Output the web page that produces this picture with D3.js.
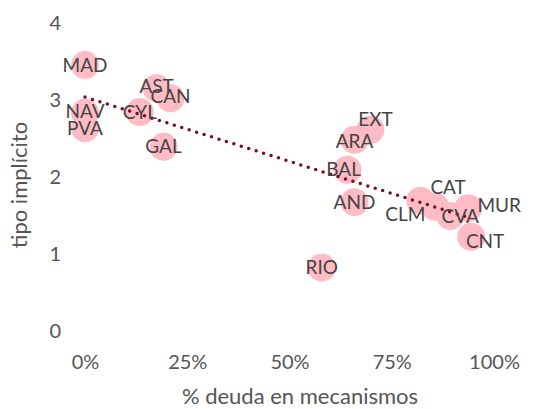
<!DOCTYPE html>
<html>
<head>
<meta charset="utf-8">
<script src="https://cdn.jsdelivr.net/npm/d3@7"></script>
<style>
  body { margin: 0; background: #fff; }
  text { font-family: Lato, "Open Sans", sans-serif; }
</style>
</head>
<body>
<main></main>
<script>
const regions = ['MAD', 'NAV', 'PVA', 'CYL', 'AST', 'CAN', 'GAL', 'EXT', 'ARA', 'BAL', 'AND', 'RIO', 'CLM', 'CAT', 'CVA', 'MUR', 'CNT'];
const deudaMecanismos = [0, 0, 0, 0.134, 0.175, 0.209, 0.192, 0.698, 0.659, 0.642, 0.659, 0.579, 0.82, 0.856, 0.893, 0.937, 0.944];
const tipoImplicito = [3.44, 2.82, 2.62, 2.83, 3.14, 3.01, 2.38, 2.60, 2.47, 2.08, 1.66, 0.81, 1.68, 1.60, 1.48, 1.58, 1.21];
const xTicks = [0, 0.25, 0.5, 0.75, 1];
const yTicks = [0, 1, 2, 3, 4];

// label nudges (px), roughly where the repel put them
const nudge = {
    EXT: [5, -10], ARA: [0, 2], BAL: [-4, 0], CAT: [13, -19], CLM: [-15, 14],
    CVA: [10, 0], MUR: [31, -3], CNT: [14, 5], AST: [0, -2], CAN: [0, -2], NAV: [0, -2]
};

const w = 534, h = 409;
const svg = d3.select('main').append('svg').attr('width', w).attr('height', h);

const x = d3.scaleLinear().domain([0, 1]).range([85, 494]);
const y = d3.scaleLinear().domain([0, 4]).range([330, 22]);

const data = regions.map((r, i) => ({ name: r, x: deudaMecanismos[i], y: tipoImplicito[i] }));

// axes, no lines, only labels
const xAxis = svg.append('g')
    .attr('transform', 'translate(0, 352)')
    .call(d3.axisBottom(x).tickValues(xTicks).tickFormat(d3.format('.0%')).tickSize(0));
xAxis.select('.domain').remove();
xAxis.selectAll('text').attr('font-size', 20).attr('fill', '#555').attr('dy', '0.71em');

const yAxis = svg.append('g')
    .attr('transform', 'translate(64, 0)')
    .call(d3.axisLeft(y).tickValues(yTicks).tickFormat(d3.format('d')).tickSize(0));
yAxis.select('.domain').remove();
yAxis.selectAll('text').attr('font-size', 20).attr('fill', '#555').attr('dy', '0.35em');

svg.append('text')
    .attr('x', 300).attr('y', 404)
    .attr('text-anchor', 'middle')
    .attr('font-size', 22)
    .attr('fill', '#555')
    .text('% deuda en mecanismos');

svg.append('text')
    .attr('transform', 'translate(27, 185) rotate(-90)')
    .attr('text-anchor', 'middle')
    .attr('font-size', 22)
    .attr('fill', '#555')
    .text('tipo implícito');

// points
svg.append('g')
    .selectAll('circle')
    .data(data)
    .enter()
    .append('circle')
    .attr('cx', d => x(d.x))
    .attr('cy', d => y(d.y))
    .attr('r', 14)
    .attr('fill', '#ffbcc4');

// linear fit
const mx = d3.mean(data, d => d.x), my = d3.mean(data, d => d.y);
const slope = d3.sum(data, d => (d.x - mx) * (d.y - my)) / d3.sum(data, d => (d.x - mx) ** 2);
const icpt = my - slope * mx;
const [x0, x1] = d3.extent(data, d => d.x);
svg.append('line')
    .attr('x1', x(x0)).attr('y1', y(icpt + slope * x0))
    .attr('x2', x(x1)).attr('y2', y(icpt + slope * x1))
    .attr('stroke', '#7a0a2a')
    .attr('stroke-width', 3.5)
    .attr('stroke-linecap', 'round')
    .attr('stroke-dasharray', '0 7.8');

// labels
svg.append('g')
    .selectAll('text')
    .data(data)
    .enter()
    .append('text')
    .attr('x', d => x(d.x) + (nudge[d.name] || [0, 0])[0])
    .attr('y', d => y(d.y) + (nudge[d.name] || [0, 0])[1])
    .attr('dy', '0.35em')
    .attr('text-anchor', 'middle')
    .attr('font-size', 19)
    .attr('fill', '#444')
    .text(d => d.name);
</script>
</body>
</html>
